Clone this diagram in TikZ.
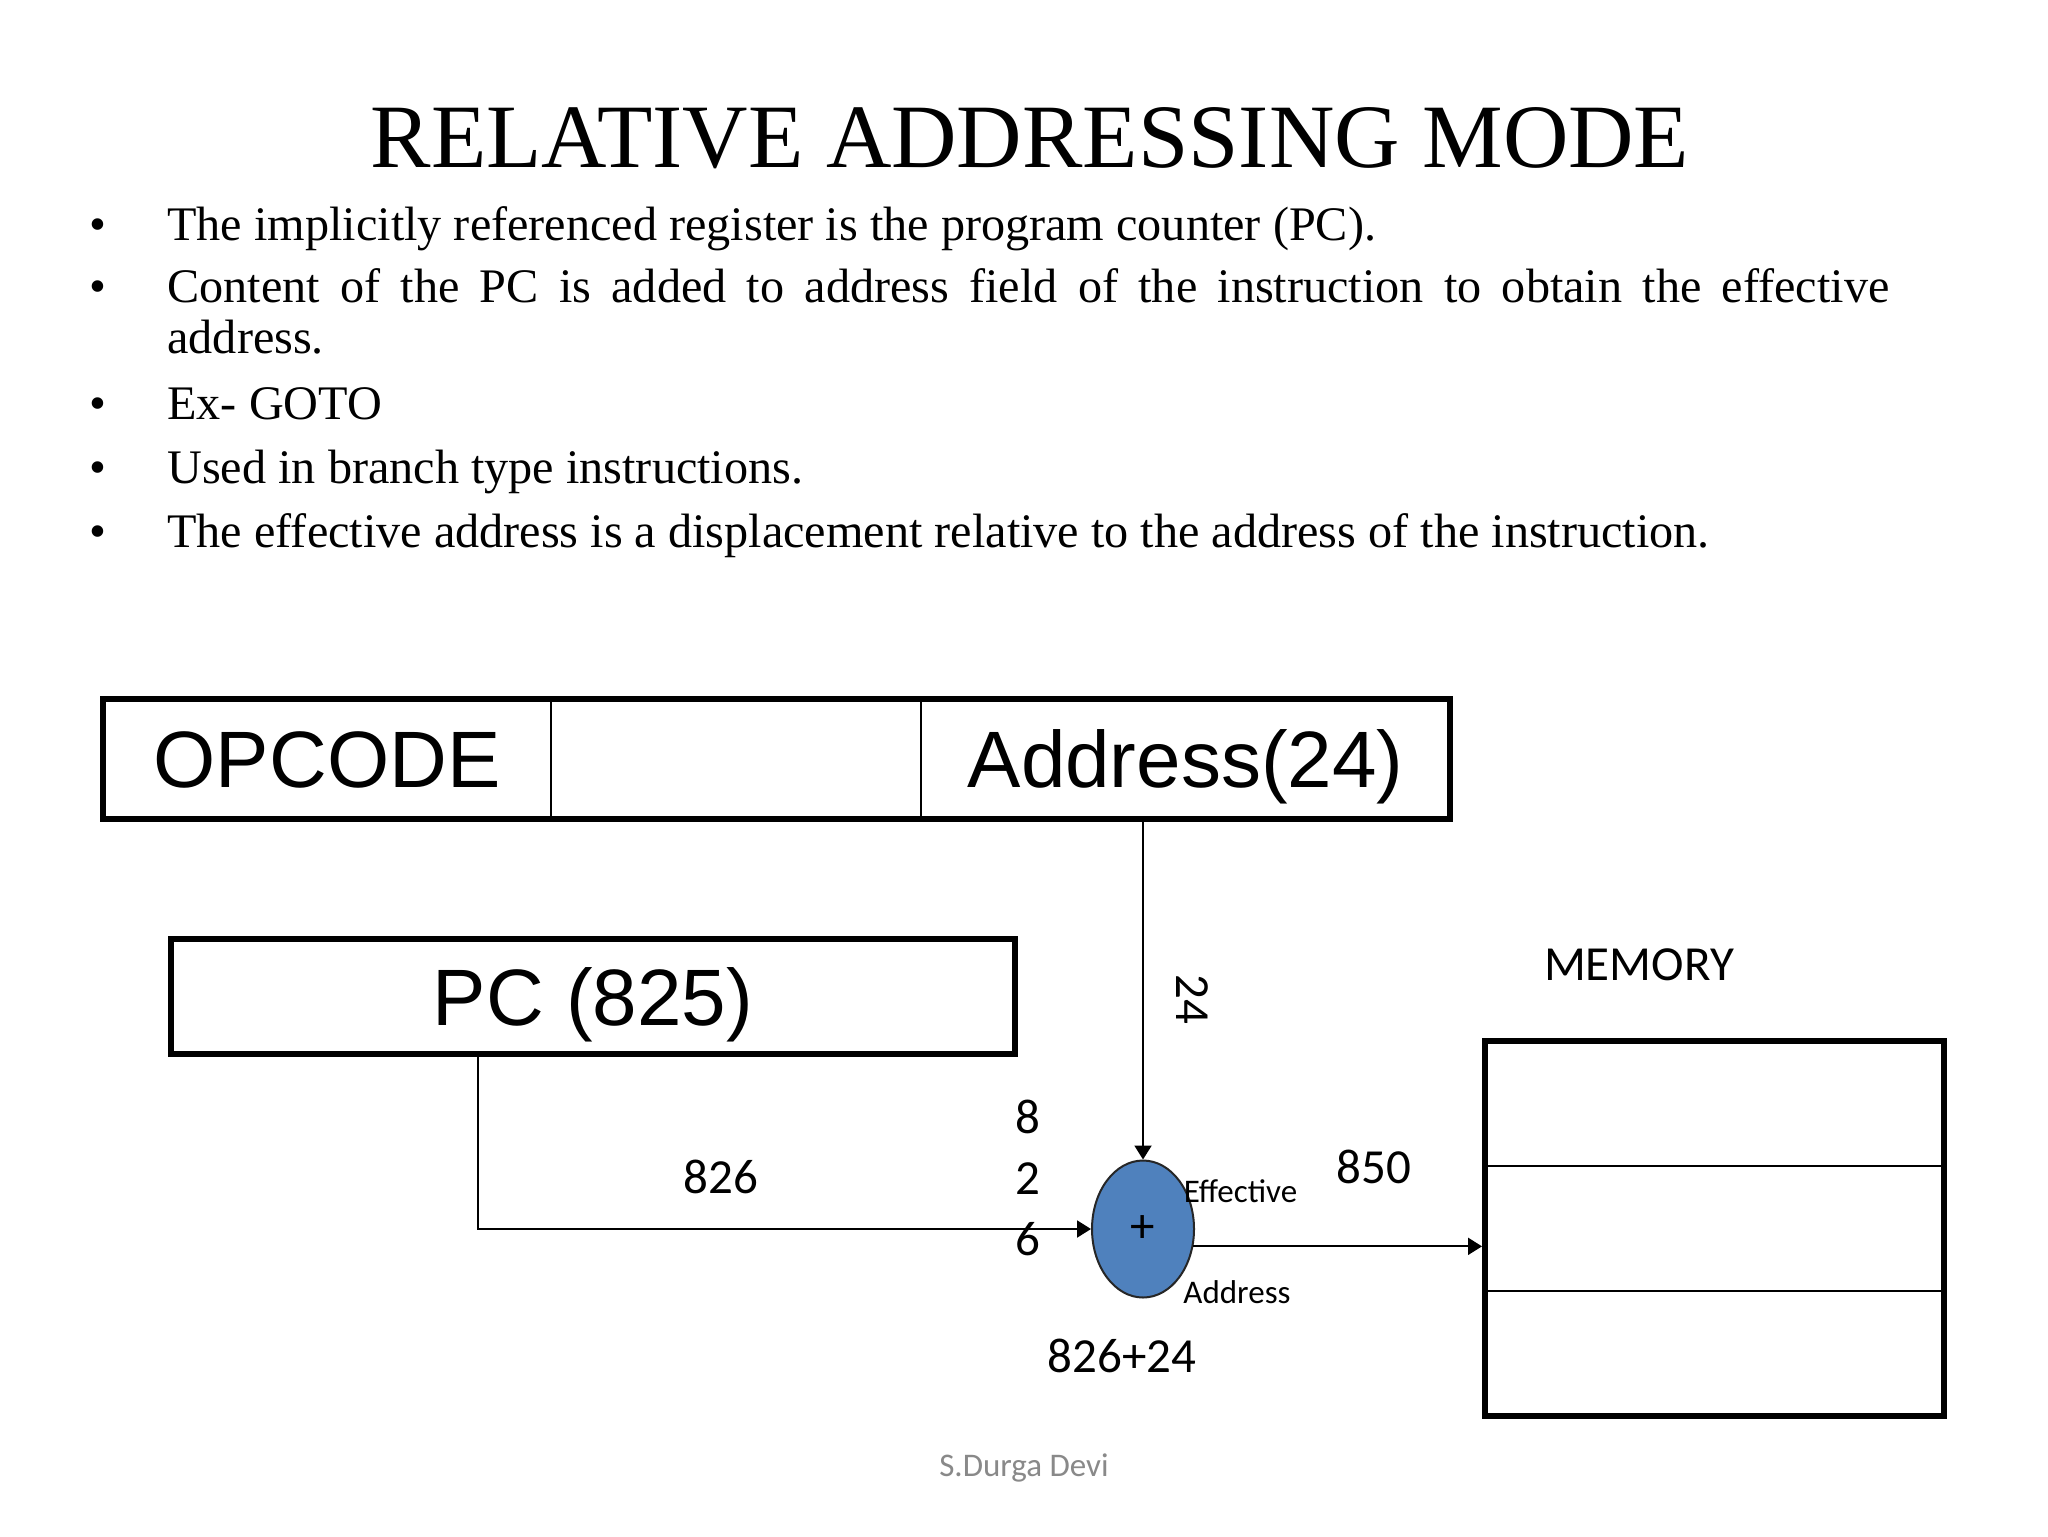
\documentclass[tikz,border=0pt]{standalone}
\usepackage{fontspec}
\setmainfont{Liberation Serif}
\newfontfamily\arialfont{Liberation Sans}
\newfontfamily\calibrifont{Carlito}
\usepackage{tikz}
\usetikzlibrary{arrows.meta,shapes.geometric,positioning}
\definecolor{sumblue}{HTML}{4F81BD}
\definecolor{footgray}{HTML}{898989}

\begin{document}
\begin{tikzpicture}[x=0.5pt,y=-0.5pt,
        cell/.style={draw,line width=1pt,outer sep=0pt,inner sep=0pt,minimum height=60pt,
                text height=28.8pt,text depth=0pt,font=\arialfont\fontsize{40}{48}\selectfont},
        memrow/.style={draw,line width=1.25pt,outer sep=0pt,minimum width=229.5pt,minimum height=62.5pt},
        item/.style={anchor=base west,inner sep=0pt,font=\fontsize{24.1}{29}\selectfont},
        bulletdot/.style={anchor=base,inner sep=0pt,font=\fontsize{24.1}{29}\selectfont},
        lbl/.style={inner sep=0pt,font=\calibrifont\fontsize{24.5}{29}\selectfont},
        smalllbl/.style={anchor=base,inner sep=0pt,font=\calibrifont\fontsize{16.5}{20}\selectfont},
        arr/.style={-{Triangle[length=7pt,width=8.5pt]},line width=1pt}]
        \path[use as bounding box,fill=white] (0,0) rectangle (2048,1536);

        \node[anchor=base,inner sep=0pt,font=\fontsize{45.3}{54}\selectfont] (title) at (1030,167) {RELATIVE ADDRESSING MODE};

        \foreach \y/\txt [count=\i] in {240/The implicitly referenced register is the program counter (PC).,
                419/Ex- GOTO,483/Used in branch type instructions.,
                547/The effective address is a displacement relative to the address of the instruction.}
        {
                \node[bulletdot] (dot\i) at (98,\y) {\textbullet};
                \node[item] (item\i) at (167,\y) {\txt};
        }
        \node[bulletdot] (dot5) at (98,302) {\textbullet};
        \node[item] (item5) at (167,302) {\makebox[861pt][s]{Content of the PC is added to address field of the instruction to obtain the effective}};
        \node[item] (item6) at (167,353) {address.};

        \node[cell,minimum width=224pt] (opcode) at (327,759) {OPCODE};
        \node[cell,minimum width=185pt,right=0pt of opcode] (mode) {};
        \node[cell,minimum width=264.5pt,right=0pt of mode] (addr) {Address(24)};
        \draw[line width=3pt] (opcode.north west) rectangle (addr.south east);

        \node[cell,line width=3pt,minimum width=422pt,minimum height=57.5pt] (pc) at (593,996.5) {PC (825)};

        \foreach \i in {1,2,3}
                \node[memrow] (mem\i) at (1714.5,978.5+125*\i) {};
        \draw[line width=3pt] (mem1.north west) rectangle (mem3.south east);
        \node[lbl,anchor=base] (memlbl) at (1639,980) {MEMORY};

        \node[ellipse,draw=black!85,line width=1pt,fill=sumblue,minimum width=51pt,minimum height=68.5pt,
                inner sep=0pt,font=\calibrifont\fontsize{24.5}{29}\selectfont] (sum) at (1143,1229) {+};

        \draw[arr] (sum.north |- addr.south) -- (sum.north);
        \draw[arr] (pc.south) ++(-115,0) |- (sum.west);
        \draw[arr,shorten >=1.5pt] (sum.-19) -- (sum.-19 -| mem2.west);

        \node[lbl,rotate=-90] (offset) at (1192,999) {24};
        \node[lbl,anchor=base] (pcnext) at (721,1193) {826};
        \foreach \d [count=\i] in {8,2,6}
                \node[lbl,anchor=base] (digit\i) at (1027.5,1072+61*\i) {\d};
        \node[lbl,anchor=base] (eaval) at (1374,1183) {850};
        \node[lbl,anchor=base] (easum) at (1122,1372) {826+24};
        \node[smalllbl] (eatop) at (1240.5,1202) {Effective};
        \node[smalllbl] (eabot) at (1237,1303) {Address};
        \node[smalllbl,text=footgray] (footer) at (1024,1476) {S.Durga Devi};
\end{tikzpicture}
\end{document}
